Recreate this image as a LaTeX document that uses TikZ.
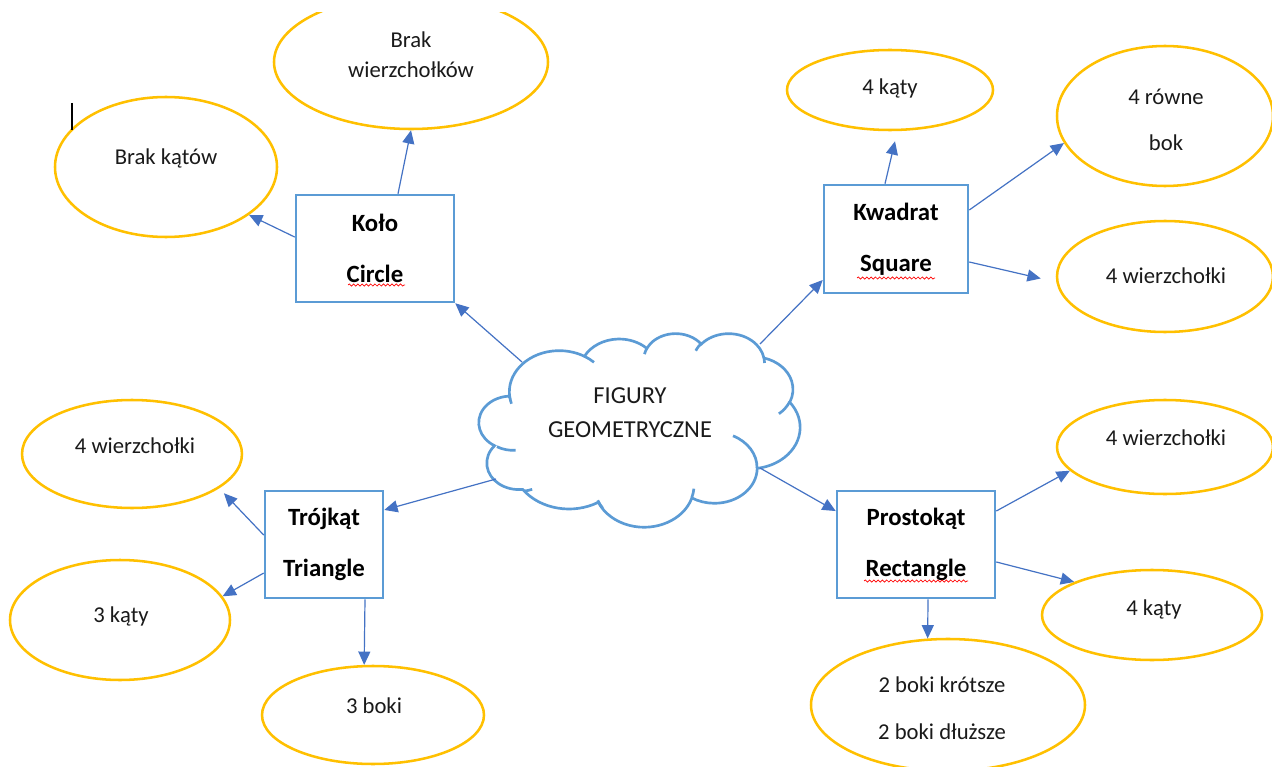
\documentclass[tikz,border=0pt]{standalone}
\usepackage{fontspec}
\setmainfont{Carlito}
\usetikzlibrary{arrows.meta,shapes.geometric,decorations.pathmorphing,calc}
\definecolor{ovc}{HTML}{FFC000}
\definecolor{boxc}{HTML}{5B9BD5}
\definecolor{arrc}{HTML}{4472C4}
\definecolor{txtc}{HTML}{1A1A1A}
\tikzset{
  oval/.style={draw=ovc, line width=1.9pt, fill=white, ellipse, inner sep=0pt},
  fbox/.style={draw=boxc, line width=1.9pt, fill=white, rectangle, inner sep=0pt, align=center,
    font=\fontsize{18.6}{38.25}\selectfont\bfseries, text=black},
  txt/.style={inner sep=0pt, align=center, text=txtc, font=\fontsize{17}{20}\selectfont},
  conn/.style={draw=arrc, line width=0.9pt, -{Triangle[length=10pt,width=9pt]}},
  squig/.style={draw=red, line width=0.5pt, decorate, decoration={snake, amplitude=0.8pt, segment length=3.2pt}},
  cloudline/.style={draw=boxc, line width=2pt},
  oarc/.code n args={4}{%
    \pgfmathsetmacro\oaS{atan2((#1)*sin(#3),(#2)*cos(#3))}%
    \pgfmathsetmacro\oaE{atan2((#1)*sin(#3+#4),(#2)*cos(#3+#4))}%
    \pgfmathsetmacro\oaD{mod(\oaE-\oaS+720,360)}%
    \pgfkeysalso{x radius=#1, y radius=#2, start angle=\oaS, delta angle=\oaD}}
}
\begin{document}
\begin{tikzpicture}[x=0.75pt,y=-0.75pt]
\useasboundingbox (0,0) rectangle (1272,767);
\fill[white] (0,0) rectangle (1272,767);

% cloud
\begin{scope}[shift={(481,333)}, x=0.55382pt, y=-0.33600pt]
\draw[cloudline, fill=white] (39.00,143.70)
 arc[oarc={67.53}{91.90}{-190.4875}{123.7805}]
 arc[oarc={53.33}{72.67}{-144.1024}{89.9452}]
 arc[oarc={43.65}{59.45}{-145.8079}{99.7230}]
 arc[oarc={48.57}{65.95}{-130.9861}{117.2417}]
 arc[oarc={53.33}{72.73}{-78.7089}{109.0269}]
 arc[oarc={67.75}{92.20}{-46.2673}{130.2690}]
 arc[oarc={57.85}{78.67}{0.6250}{114.0333}]
 arc[oarc={67.52}{92.15}{22.4584}{127.1609}]
 arc[oarc={77.20}{105.43}{66.2426}{69.2029}]
 arc[oarc={43.60}{59.18}{-274.9421}{144.5505}]
 arc[oarc={43.45}{59.45}{-246.8285}{153.5878}]
 -- cycle;
\draw[cloudline]
 (46.93,261.77) arc[oarc={43.45}{59.45}{86.7420}{26.4295}]
 (69.28,348.99) arc[oarc={43.60}{59.18}{73.6105}{11.4475}]
 (164.78,390.90) arc[oarc={67.52}{92.15}{137.6242}{14.0811}]
 (288.27,347.51) arc[oarc={67.52}{92.15}{6.4533}{15.9984}]
 (341.29,229.54) arc[oarc={57.85}{78.67}{-70.2924}{70.9174}]
 (417.98,153.54) arc[oarc={53.33}{72.73}{30.3180}{27.7515}]
 (383.24,54.26) arc[oarc={48.57}{65.95}{-13.7443}{14.8589}]
 (290.78,39.52) arc[oarc={48.57}{65.95}{-149.1815}{18.1954}]
 (221.41,47.20) arc[oarc={43.65}{59.45}{-163.4943}{17.6864}]
 (140.00,51.92) arc[oarc={67.53}{91.90}{-66.7070}{12.3194}]
 (41.27,157.89) arc[oarc={67.53}{91.90}{157.6544}{11.8582}];
\end{scope}
\node[txt, font=\fontsize{18.3}{25.5}\selectfont] (cl-t) at (630,413) {FIGURY\\GEOMETRYCZNE};
\coordinate (cl-nw) at (522,362);
\coordinate (cl-ne) at (760,344);
\coordinate (cl-sw) at (496,479);
\coordinate (cl-se) at (760,468);

% ellipses
\begin{scope}
\clip (0,13) rectangle (1272,767);
\node[oval, minimum width=205.5pt, minimum height=100.5pt] (bw) at (411,62) {};
\end{scope}
\node[oval, minimum width=166.5pt, minimum height=105pt] (bk) at (166,167) {};
\node[oval, minimum width=154.5pt, minimum height=60pt] (k4) at (890,90) {};
\node[oval, minimum width=162pt, minimum height=105pt] (r4) at (1165,116) {};
\node[oval, minimum width=162pt, minimum height=83.25pt] (wa) at (1165,276.5) {};
\node[oval, minimum width=165pt, minimum height=81pt] (wl) at (132,454) {};
\node[oval, minimum width=165pt, minimum height=90pt] (k3) at (120,620) {};
\node[oval, minimum width=166.5pt, minimum height=73.5pt] (b3) at (373,715) {};
\node[oval, minimum width=162pt, minimum height=70.5pt] (wb) at (1165,447) {};
\node[oval, minimum width=165pt, minimum height=67.5pt] (kb) at (1152,615) {};
\node[oval, minimum width=205.5pt, minimum height=99pt] (b2) at (948,705) {};

% ellipse texts
\node[txt, font=\fontsize{17}{22.5}\selectfont] (bw-t) at (411,55) {Brak\\wierzchołków};
\node[txt] (bk-t) at (166,158) {Brak kątów};
\node[txt] (k4-t) at (890,88) {4 kąty};
\node[txt, font=\fontsize{17}{34.5}\selectfont] (r4-t) at (1166,120) {4 równe\\bok};
\node[txt] (wa-t) at (1166,276) {4 wierzchołki};
\node[txt] (wl-t) at (135,446) {4 wierzchołki};
\node[txt] (k3-t) at (121,616) {3 kąty};
\node[txt] (b3-t) at (374,706) {3 boki};
\node[txt] (wb-t) at (1166,438) {4 wierzchołki};
\node[txt] (kb-t) at (1154,609) {4 kąty};
\node[txt, font=\fontsize{17}{35.25}\selectfont] (b2-t) at (942,708.5) {2 boki krótsze\\2 boki dłuższe};

% boxes
\node[fbox, minimum width=118.5pt, minimum height=80.25pt] (kolo) at (375,248.5) {Koło\\Circle};
\node[fbox, minimum width=108pt, minimum height=81pt] (kw) at (896,239) {Kwadrat\\Square};
\node[fbox, minimum width=88.5pt, minimum height=80.25pt] (tr) at (324,544.5) {Trójkąt\\Triangle};
\node[fbox, minimum width=118.5pt, minimum height=80.25pt] (pr) at (916,544.5) {Prostokąt\\Rectangle};

% spell-check squiggles
\draw[squig] (348,285) -- (405,285);
\draw[squig] (857,278) -- (935,278);
\draw[squig] (864,581) -- (968,581);

% text cursor
\draw[line width=1pt] (72,103) -- (72,130);

% connectors
\draw[conn] (cl-nw) -- (kolo.south east);
\draw[conn] ([yshift=8.6pt]kolo.west) -- (bk.-30);
\draw[conn] ([xshift=17.25pt]kolo.north) -- (bw.south);
\draw[conn] (cl-ne) -- ([yshift=-30.75pt]kw.west);
\draw[conn] ([xshift=-8.25pt]kw.north) -- ([shift={(3.75pt,-7.5pt)}]k4.south);
\draw[conn] ([yshift=21.75pt]kw.east) -- (r4.195);
\draw[conn] ([yshift=-17.25pt]kw.east) -- ([shift={(-11.25pt,-1.5pt)}]wa.west);
\draw[conn] (cl-sw) -- ([yshift=25.9pt]tr.east);
\draw[conn] ([yshift=7.1pt]tr.west) -- ([shift={(5.5pt,-2.5pt)}]wl.-23);
\draw[conn] ([yshift=-21.4pt]tr.west) -- (k3.13);
\draw[conn] ([xshift=30.75pt]tr.south) -- (b3.100);
\draw[conn] (cl-se) -- ([yshift=25.1pt]pr.west);
\draw[conn] ([yshift=25.1pt]pr.east) -- (wb.194);
\draw[conn] ([yshift=-13.1pt]pr.east) -- (kb.157);
\draw[conn] ([xshift=9pt]pr.south) -- (b2.107);
\end{tikzpicture}
\end{document}
